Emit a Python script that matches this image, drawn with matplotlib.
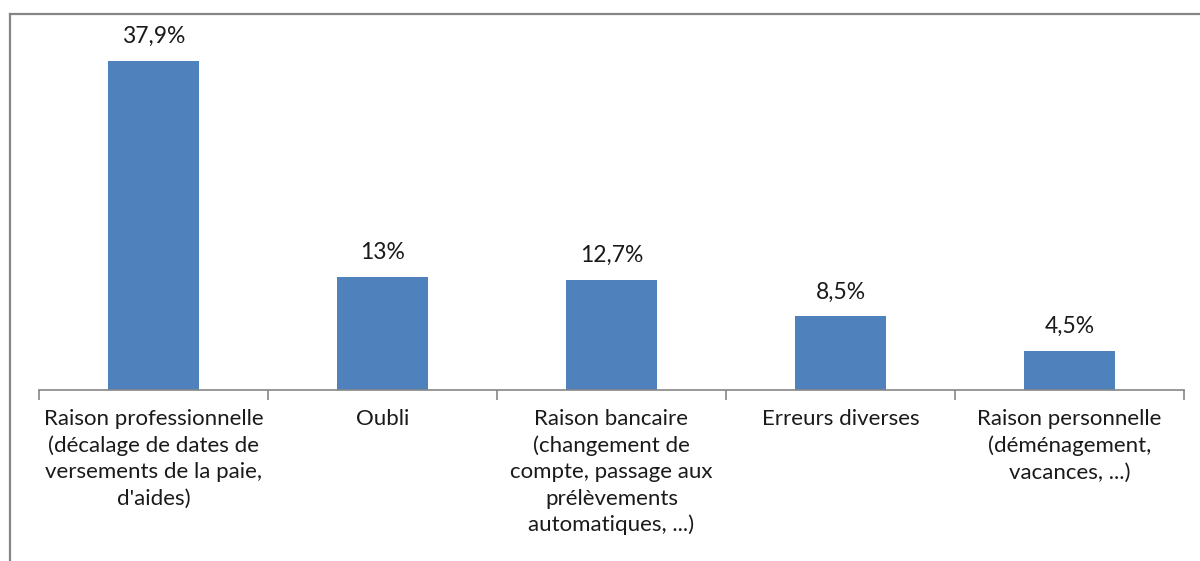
import matplotlib.pyplot as plt
from matplotlib.lines import Line2D

categories = [
    "Raison professionnelle\n(décalage de dates de\nversements de la paie,\nd'aides)",
    "Oubli",
    "Raison bancaire\n(changement de\ncompte, passage aux\nprélèvements\nautomatiques, ...)",
    "Erreurs diverses",
    "Raison personnelle\n(déménagement,\nvacances, ...)",
]
values = [37.9, 13.0, 12.7, 8.5, 4.5]
value_labels = ["37,9%", "13%", "12,7%", "8,5%", "4,5%"]

plt.rcParams['font.family'] = ['Lato', 'DejaVu Sans']

fig = plt.figure(figsize=(12, 5.61), dpi=100)
ax = fig.add_axes([39 / 1200, 1 - 390 / 561, 1145 / 1200, 347 / 561])

x = list(range(len(values)))
ax.bar(x, values, width=0.4, color="#4f81bd", zorder=2)

for xi, v, lab in zip(x, values, value_labels):
    ax.annotate(lab, (xi, v), xytext=(0, 10), textcoords="offset points",
                ha="center", va="bottom", fontsize=16.5, color="#1a1a1a")

ax.set_xlim(-0.5, len(values) - 0.5)
ax.set_ylim(0, 40)

ax.set_xticks(x)
ax.set_xticklabels(categories, fontsize=16, color="#1a1a1a", linespacing=1.38)
ax.tick_params(axis="x", which="major", length=0, pad=14)
ax.set_xticks([i - 0.5 for i in range(len(values) + 1)], minor=True)
ax.tick_params(axis="x", which="minor", length=7, color="#868686", width=1.2)
ax.set_yticks([])

for side in ["top", "right", "left"]:
    ax.spines[side].set_visible(False)
ax.spines["bottom"].set_color("#868686")
ax.spines["bottom"].set_linewidth(1.2)

# chart frame (cropped at right and bottom)
fig.add_artist(Line2D([10 / 1200, 10 / 1200], [0, 1 - 14 / 561], color="#868686", linewidth=1.6))
fig.add_artist(Line2D([10 / 1200, 1], [1 - 14 / 561, 1 - 14 / 561], color="#868686", linewidth=1.6))

fig.savefig("out.png", dpi=100, facecolor="white")
plt.close(fig)
